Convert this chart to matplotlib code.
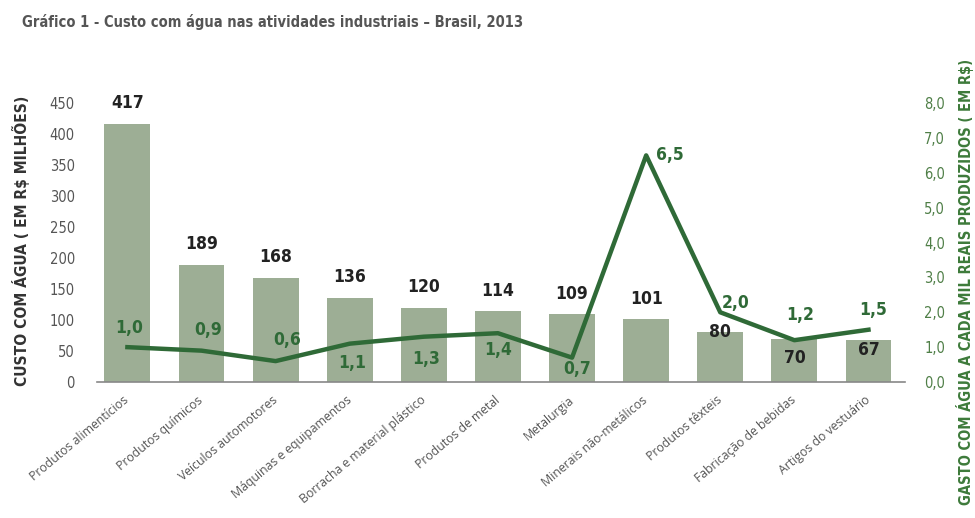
import matplotlib
matplotlib.use("Agg")
import matplotlib.pyplot as plt
from matplotlib import font_manager

categories = [
    "Produtos alimentícios", "Produtos químicos", "Veículos automotores",
    "Máquinas e equipamentos", "Borracha e material plástico", "Produtos de metal",
    "Metalurgia", "Minerais não-metálicos", "Produtos têxteis",
    "Fabricação de bebidas", "Artigos do vestuário",
]
custo = [417, 189, 168, 136, 120, 114, 109, 101, 80, 70, 67]
gasto = [1.0, 0.9, 0.6, 1.1, 1.3, 1.4, 0.7, 6.5, 2.0, 1.2, 1.5]
left_ticks = [0, 50, 100, 150, 200, 250, 300, 350, 400, 450]
right_ticks = [0, 1, 2, 3, 4, 5, 6, 7, 8]

BAR = "#9dae95"
LINE = "#2f6a37"
GREY = "#555555"

# pick a narrow face if one is around
fonts = font_manager.fontManager.ttflist
names = {f.name for f in fonts}
if "Liberation Sans Narrow" in names:
    NARROW = dict(family="Liberation Sans Narrow")
elif any(f.name == "DejaVu Sans" and f.stretch == "condensed" for f in fonts):
    NARROW = dict(family="DejaVu Sans", fontstretch="condensed")
else:
    NARROW = dict(family="DejaVu Sans")

fig = plt.figure(figsize=(9.75, 5.18), dpi=100)
ax = fig.add_axes([0.0995, 0.2625, 0.8285, 0.5385])
ax2 = ax.twinx()

x = list(range(len(categories)))
ax.bar(x, custo, width=0.62, color=BAR, zorder=1)
ax.set_xlim(-0.41, 10.49)
ax.set_ylim(0, 450)
ax.set_yticks(left_ticks)
ax.set_yticklabels([str(v) for v in left_ticks], fontsize=10.5, color=GREY, **NARROW)
ax.tick_params(axis="y", length=0, pad=16)
ax.set_xticks(x)
ax.set_xticklabels(categories, rotation=40, ha="right", va="center",
                   rotation_mode="anchor", family="Open Sans", fontsize=8.8, color=GREY)
ax.tick_params(axis="x", length=0, pad=12)
for s in ["top", "right", "left"]:
    ax.spines[s].set_visible(False)
ax.spines["bottom"].set_color("#888888")
ax.spines["bottom"].set_linewidth(1.2)

ax2.plot(x, gasto, color=LINE, linewidth=3.2, solid_joinstyle="round", zorder=3)
ax2.set_ylim(0, 8)
ax2.set_yticks(right_ticks)
ax2.set_yticklabels([f"{v:.1f}".replace(".", ",") for v in right_ticks],
                    fontsize=10.5, color="#4f7f47", **NARROW)
ax2.tick_params(axis="y", length=0, pad=14)
for s in ["top", "right", "left", "bottom"]:
    ax2.spines[s].set_visible(False)

# bar value labels: offsets in points from bar top
bar_off = [15, 15, 15, 15, 15, 15, 15, 15, 0, -14, -7]
for i, v in enumerate(custo):
    ax.annotate(str(v), (i, v), xytext=(0, bar_off[i]), textcoords="offset points",
                ha="center", va="center", fontsize=12.5,
                fontweight="bold", color="#222222", zorder=5, **NARROW)

# line value labels: offsets in points from point
line_off = [(1, 14), (5, 15), (8, 15), (2, -14), (2, -16), (0, -12),
            (4, -8), (17, 0), (11, 7), (4, 18), (3, 14)]
for i, v in enumerate(gasto):
    dx, dy = line_off[i]
    ax2.annotate(f"{v:.1f}".replace(".", ","), (i, v), xytext=(dx, dy),
                 textcoords="offset points", ha="center", va="center",
                 fontsize=12.5, fontweight="bold", color=LINE, zorder=5, **NARROW)

fig.text(0.0226, 0.957, "Gráfico 1 - Custo com água nas atividades industriais – Brasil, 2013",
         fontsize=10.5, fontweight="bold", color=GREY, ha="left", va="center", **NARROW)
fig.text(0.022, 0.535, "CUSTO COM ÁGUA ( EM R$ MILHÕES)", rotation=90,
         fontsize=11.2, fontweight="bold", color="#333333", ha="center", va="center", **NARROW)
fig.text(0.99, 0.455, "GASTO COM ÁGUA A CADA MIL REAIS PRODUZIDOS ( EM R$)", rotation=90,
         fontsize=10.5, fontweight="bold", color="#3d7a3a",
         ha="center", va="center", **NARROW)

fig.savefig("out.png", dpi=100)
